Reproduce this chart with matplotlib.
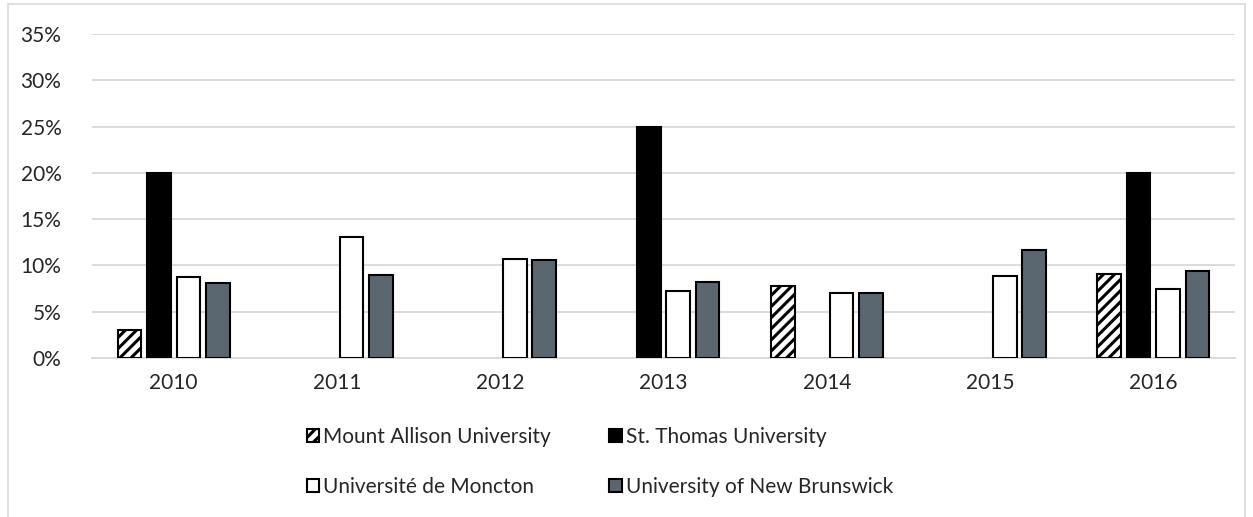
import matplotlib
matplotlib.use('Agg')
import matplotlib.pyplot as plt
import numpy as np
from matplotlib.patches import Rectangle

years = ["2010", "2011", "2012", "2013", "2014", "2015", "2016"]
mount_allison = [3.0, 0, 0, 0, 7.8, 0, 9.1]
st_thomas = [20.0, 0, 0, 25.0, 0, 0, 20.0]
moncton = [8.7, 13.1, 10.7, 7.2, 7.0, 8.9, 7.5]
unb = [8.1, 9.0, 10.6, 8.2, 7.0, 11.7, 9.4]

plt.rcParams['font.family'] = ['Lato', 'DejaVu Sans']
plt.rcParams['hatch.linewidth'] = 2.2

fig = plt.figure(figsize=(12.53, 5.17), dpi=100)
ax = fig.add_axes([92 / 1253, 1 - 358 / 517, 1143 / 1253, 324 / 517])

x = np.arange(len(years))
slot = 0.18
width = 0.145
series = [
    (mount_allison, "Mount Allison University", dict(facecolor="white", hatch="///")),
    (st_thomas, "St. Thomas University", dict(facecolor="black")),
    (moncton, "Université de Moncton", dict(facecolor="white")),
    (unb, "University of New Brunswick", dict(facecolor="#5b6770")),
]
handles = []
for i, (vals, name, style) in enumerate(series):
    pos = x + (i - 1.5) * slot
    vals = np.array(vals, dtype=float)
    mask = vals > 0
    b = ax.bar(pos[mask], vals[mask], width=width, edgecolor="black",
               linewidth=1.5, label=name, zorder=3, **style)
    handles.append(b)

ax.set_xlim(-0.5, len(years) - 0.5)
ax.set_ylim(0, 35)
ax.set_yticks(np.arange(0, 36, 5))
ax.set_yticklabels([f"{v}%" for v in range(0, 36, 5)])
ax.set_xticks(x)
ax.set_xticklabels(years)
ax.tick_params(axis="both", length=0, labelsize=15, colors="#262626")
ax.tick_params(axis="y", pad=22)
ax.tick_params(axis="x", pad=11)
ax.yaxis.grid(True, color="#d9d9d9", linewidth=1.3, zorder=0)
for s in ["top", "right", "left"]:
    ax.spines[s].set_visible(False)
ax.spines["bottom"].set_color("#d9d9d9")
ax.spines["bottom"].set_linewidth(1.3)

# legend fills row by row in the reference
order = [0, 2, 1, 3]
fig.legend(handles=[handles[k] for k in order], loc="center",
           bbox_to_anchor=(600 / 1253, 1 - 462 / 517),
           ncol=2, frameon=False, fontsize=15, handlelength=0.6, handleheight=0.6,
           handletextpad=0.2, columnspacing=2.8, labelspacing=1.45,
           labelcolor="#262626")

fig.patches.append(Rectangle((8 / 1253, -0.1), 1237 / 1253, 1 - 4 / 517 + 0.1,
                             transform=fig.transFigure, fill=False,
                             edgecolor="#d9d9d9", linewidth=1.2))

fig.savefig("out.png", dpi=100)
